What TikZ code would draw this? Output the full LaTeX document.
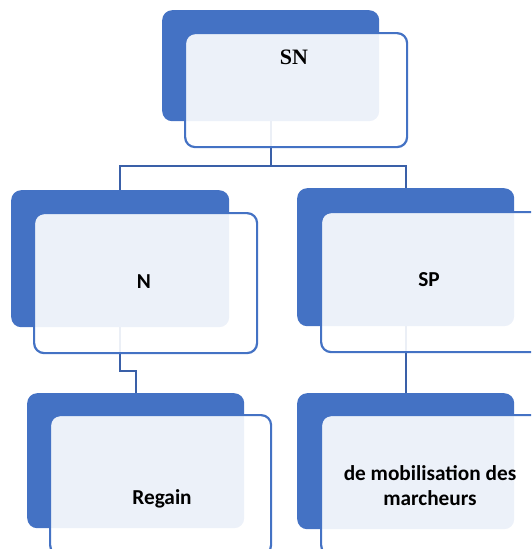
\documentclass[tikz,border=0pt]{standalone}
\usepackage{fontspec}
\setmainfont{Carlito}
\newfontfamily\serifbold{Liberation Serif}
\definecolor{accent}{HTML}{4472C4}
\definecolor{conn}{HTML}{3A60A8}
\begin{document}
\begin{tikzpicture}[x=1pt,y=-1pt,
  backbox/.style={fill=accent, draw=none, rounded corners=10pt, inner sep=0pt, anchor=north west},
  frontbox/.style={draw=accent, line width=2.2pt, fill=white, fill opacity=0.9, rounded corners=10pt, inner sep=0pt, anchor=north west},
  connline/.style={draw=conn, line width=2.2pt},
  label/.style={font=\fontsize{21.3}{25}\selectfont\bfseries, text=black, inner sep=0pt, align=center}]
\useasboundingbox (0,0) rectangle (531,549);
\clip (0,0) rectangle (531,549);
% back boxes
\node[backbox, minimum width=217pt, minimum height=111pt] (snB) at (162,10) {};
\node[backbox, minimum width=218pt, minimum height=137pt] (nB) at (11,190) {};
\node[backbox, minimum width=217pt, minimum height=138pt] (spB) at (297,188) {};
\node[backbox, minimum width=217pt, minimum height=135pt] (rgB) at (27,393) {};
\node[backbox, minimum width=217pt, minimum height=136pt] (dmB) at (297,393) {};
% connectors
\coordinate (j1) at (270,166);
\coordinate (j2) at (120,371);
\draw[connline] (snB.south) -- (snB.south |- j1) -| (nB.north);
\draw[connline] (snB.south) -- (snB.south |- j1) -| (spB.north);
\draw[connline] (nB.south) -- (nB.south |- j2) -| (rgB.north);
\draw[connline] (spB.south) -- (dmB.north);
% front boxes
\node[frontbox, minimum width=222pt, minimum height=114pt] (snF) at (184,32) {};
\node[frontbox, minimum width=223pt, minimum height=140pt] (nF) at (33,212) {};
\node[frontbox, minimum width=222pt, minimum height=140pt] (spF) at (320,211) {};
\node[frontbox, minimum width=221pt, minimum height=140pt] (rgF) at (49,414) {};
\node[frontbox, minimum width=222pt, minimum height=140pt] (dmF) at (320,414) {};
% texts
\node[label, font=\fontsize{22}{25}\selectfont\serifbold\bfseries] (snT) at (294,57) {SN};
\node[label] (nT) at (144,282) {N};
\node[label] (spT) at (429,280) {SP};
\node[label] (rgT) at (162,499) {Regain};
\node[label] (dmT) at (430,486) {de mobilisation des\\marcheurs};
\end{tikzpicture}
\end{document}
